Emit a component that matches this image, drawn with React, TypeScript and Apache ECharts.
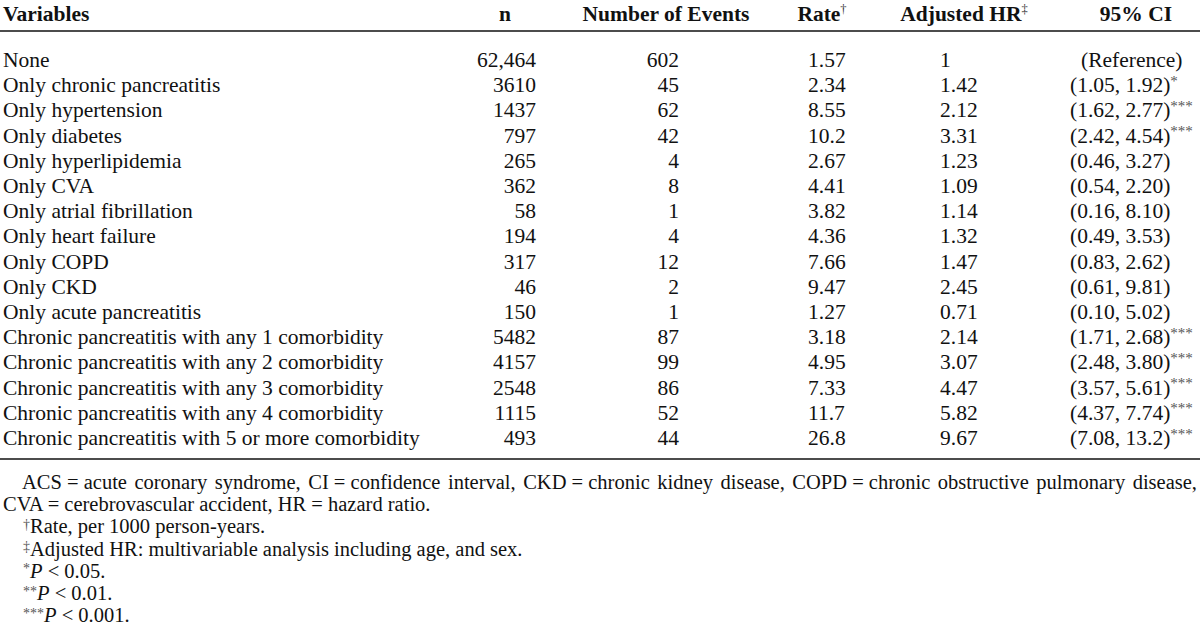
import React, { useEffect, useRef } from "react";
import * as echarts from "echarts";

const FONT = '"Liberation Serif", "Times New Roman", serif';
const FS = 21.5;
const FN = 20.5;

const headers = ["Variables", "n", "Number of Events", "Rate", "Adjusted HR", "95% CI"];
const headerSup = ["", "", "", "\u2020", "\u2021", ""];

const variables = [
  "None",
  "Only chronic pancreatitis",
  "Only hypertension",
  "Only diabetes",
  "Only hyperlipidemia",
  "Only CVA",
  "Only atrial fibrillation",
  "Only heart failure",
  "Only COPD",
  "Only CKD",
  "Only acute pancreatitis",
  "Chronic pancreatitis with any 1 comorbidity",
  "Chronic pancreatitis with any 2 comorbidity",
  "Chronic pancreatitis with any 3 comorbidity",
  "Chronic pancreatitis with any 4 comorbidity",
  "Chronic pancreatitis with 5 or more comorbidity",
];
const nValues = ["62,464", "3610", "1437", "797", "265", "362", "58", "194", "317", "46", "150", "5482", "4157", "2548", "1115", "493"];
const events = ["602", "45", "62", "42", "4", "8", "1", "4", "12", "2", "1", "87", "99", "86", "52", "44"];
const rates = ["1.57", "2.34", "8.55", "10.2", "2.67", "4.41", "3.82", "4.36", "7.66", "9.47", "1.27", "3.18", "4.95", "7.33", "11.7", "26.8"];
const hrs = ["1", "1.42", "2.12", "3.31", "1.23", "1.09", "1.14", "1.32", "1.47", "2.45", "0.71", "2.14", "3.07", "4.47", "5.82", "9.67"];
const ciLow = ["", "1.05", "1.62", "2.42", "0.46", "0.54", "0.16", "0.49", "0.83", "0.61", "0.10", "1.71", "2.48", "3.57", "4.37", "7.08"];
const ciHigh = ["", "1.92", "2.77", "4.54", "3.27", "2.20", "8.10", "3.53", "2.62", "9.81", "5.02", "2.68", "3.80", "5.61", "7.74", "13.2"];
const sig = ["", "*", "***", "***", "", "", "", "", "", "", "", "***", "***", "***", "***", "***"];

const footnoteLine1 = [
  "ACS = acute", "coronary", "syndrome,", "CI = confidence", "interval,", "CKD = chronic", "kidney",
  "disease,", "COPD = chronic", "obstructive", "pulmonary", "disease,",
];
const footnoteLine2 = "CVA = cerebrovascular accident, HR = hazard ratio.";
const footnoteMarks = ["\u2020", "\u2021", "*", "**", "***"];
const footnoteTexts = ["Rate, per 1000 person-years.", "Adjusted HR: multivariable analysis including age, and sex.", "P", "P", "P"];
const footnoteTails = ["", "", " < 0.05.", " < 0.01.", " < 0.001."];

function measure(text: string, size: number, weight = "normal") {
  const c = document.createElement("canvas").getContext("2d")!;
  c.font = `${weight} ${size}px ${FONT}`;
  return c.measureText(text).width;
}

export default function App() {
  const ref = useRef<HTMLDivElement>(null);
  useEffect(() => {
    if (!ref.current) return;
    const chart = echarts.init(ref.current, undefined, { renderer: "svg" });

    const rich: any = {
      m: { fontFamily: FONT, fontSize: FS, fill: "#111", lineHeight: 24 },
      b: { fontFamily: FONT, fontSize: FS, fill: "#111", fontWeight: "bold", lineHeight: 24 },
      s: { fontFamily: FONT, fontSize: 15, fill: "#555", verticalAlign: "top", lineHeight: 13 },
      hs: { fontFamily: FONT, fontSize: 12.5, fill: "#333", verticalAlign: "top", lineHeight: 12 },
      fm: { fontFamily: FONT, fontSize: FN, fill: "#111", lineHeight: 18 },
      fi: { fontFamily: FONT, fontSize: FN, fill: "#111", fontStyle: "italic", lineHeight: 18 },
      fs: { fontFamily: FONT, fontSize: 14, fill: "#555", verticalAlign: "top", lineHeight: 10 },
    };

    const els: any[] = [];
    const text = (x: number, y: number, t: string, align = "left", r: any = rich) => {
      els.push({
        type: "text",
        silent: true,
        style: { x, y, text: t, align, verticalAlign: "middle", rich: r, fontFamily: FONT, fontSize: FS, fill: "#111" },
      });
    };

    // header
    const headerY = 14;
    const headerX = [3, 505, 666, 822, 964, 1136];
    const headerAlign = ["left", "center", "center", "center", "center", "center"];
    headers.forEach((h, i) => {
      const t = headerSup[i] ? `{b|${h}}{hs|${headerSup[i]}}` : `{b|${h}}`;
      text(headerX[i], headerY, t, headerAlign[i]);
    });
    els.push({ type: "line", silent: true, shape: { x1: 0, y1: 31, x2: 1200, y2: 31 }, style: { stroke: "#111", lineWidth: 1.6 } });

    // rows
    const row0 = 60;
    const step = 25.2;
    variables.forEach((v, r) => {
      const y = row0 + r * step;
      text(3, y, `{m|${v}}`);
      text(536, y, `{m|${nValues[r]}}`, "right");
      text(679, y, `{m|${events[r]}}`, "right");
      text(808, y, `{m|${rates[r]}}`);
      text(940, y, `{m|${hrs[r]}}`);
      const ci = ciLow[r] ? `(${ciLow[r]}, ${ciHigh[r]})` : "(Reference)";
      const sx = ciLow[r] ? 1070 : 1081;
      text(sx, y, sig[r] ? `{m|${ci}}{s|${sig[r]}}` : `{m|${ci}}`);
    });
    els.push({ type: "line", silent: true, shape: { x1: 0, y1: 459, x2: 1200, y2: 459 }, style: { stroke: "#111", lineWidth: 1.6 } });

    // footnotes
    const fy0 = 482;
    const fstep = 22.2;
    const left = 22, right = 1197;
    const widths = footnoteLine1.map((w) => measure(w, FN));
    const total = widths.reduce((a, b) => a + b, 0);
    const gap = (right - left - total) / (footnoteLine1.length - 1);
    const line1 = footnoteLine1
      .map((w, i) => (i < footnoteLine1.length - 1 ? `{fm|${w}}{g| }` : `{fm|${w}}`))
      .join("");
    const rich1 = { ...rich, g: { fontFamily: FONT, fontSize: FN, width: gap, lineHeight: 18 } };
    text(left, fy0, line1, "left", rich1);
    text(3, fy0 + fstep, `{fm|${footnoteLine2}}`);
    footnoteMarks.forEach((mk, k) => {
      const y = fy0 + fstep * (k + 2);
      const body = footnoteTails[k] ? `{fi|${footnoteTexts[k]}}{fm|${footnoteTails[k]}}` : `{fm|${footnoteTexts[k]}}`;
      text(23, y, `{fs|${mk}}${body}`);
    });

    chart.setOption({
      animation: false,
      backgroundColor: "#ffffff",
      graphic: { elements: els },
    });
    return () => chart.dispose();
  }, []);
  return <div ref={ref} style={{ position: "fixed", left: 0, top: 0, width: 1200, height: 625, background: "#fff" }} />;
}
